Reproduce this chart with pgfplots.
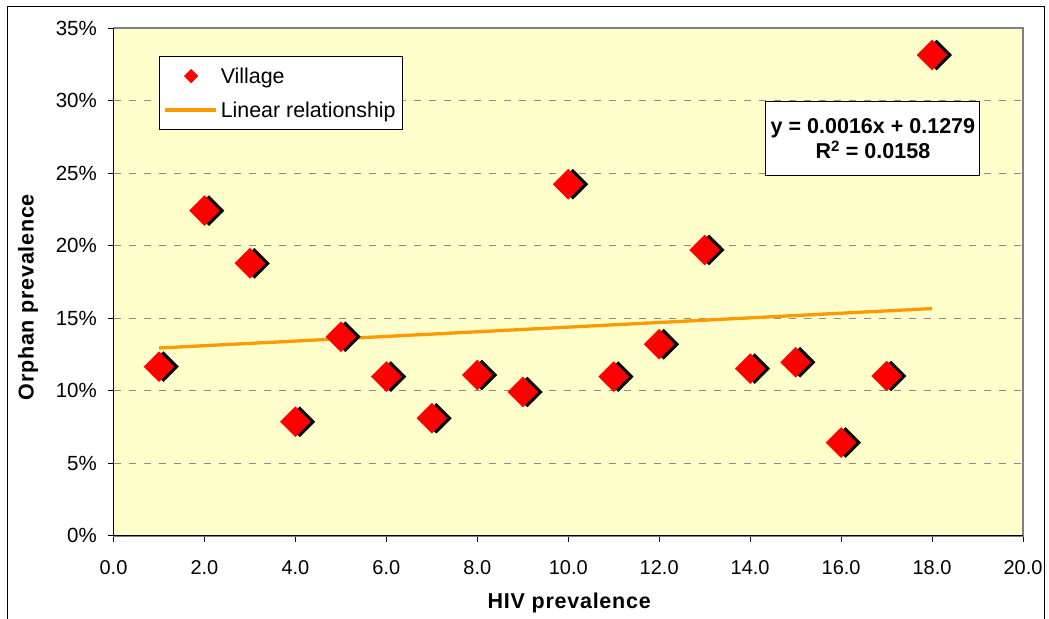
\documentclass[border=0pt]{standalone}
\usepackage{pgfplots}
\pgfplotsset{compat=1.18}
\usepackage{fontspec}
\setmainfont{Liberation Sans}
\newfontfamily\lblfont[LetterSpace=3.5]{Liberation Sans}
\definecolor{plotbg}{HTML}{FFFFCC}
\definecolor{trend}{HTML}{FF9900}
\definecolor{gridgray}{HTML}{8C8C8C}
\definecolor{framegray}{HTML}{808080}
\begin{document}
\begin{tikzpicture}
\begin{axis}[
  scale only axis,
  width=909.5pt, height=507.7pt,
  xmin=0, xmax=20, ymin=0, ymax=35,
  xtick={0,2,...,20}, ytick={0,5,...,35},
  xticklabels={}, yticklabels={},
  tick align=outside, major tick length=6pt,
  tick style={black, line width=0.9pt},
  xtick pos=bottom, ytick pos=left,
  axis line style={draw=framegray, line width=1.8pt},
  axis background/.style={fill=plotbg},
  ymajorgrids, grid style={gridgray, line width=1pt, dash pattern=on 7.5pt off 7.5pt},
  clip=false,
  legend style={at={(rel axis cs:0.050,0.945)}, anchor=north west, draw=black, line width=1pt, fill=white,
    font=\fontsize{21.4}{25}\selectfont, inner xsep=4pt, inner ysep=8pt,
    nodes={inner sep=3pt}, row sep=11pt},
  legend cell align=left,
]
% shadows
\addplot[only marks, mark=square*, mark size=10.6pt, mark options={rotate=45, fill=black, draw=black, xshift=3.2pt, yshift=-3.2pt}, forget plot] coordinates {
(1,11.67) (2,22.42) (3,18.79) (4,7.87) (5,13.73) (6,10.98) (7,8.11) (8,11.09) (9,9.92)
(10,24.24) (11,10.98) (12,13.21) (13,19.71) (14,11.53) (15,11.97) (16,6.43) (17,11.02) (18,33.15)
};
\addplot[trend, line width=3.3pt, forget plot] coordinates {(1,12.95) (18,15.67)};
% points
\addplot[only marks, mark=square*, mark size=10.6pt, mark options={rotate=45, fill=red, draw=red}, forget plot] coordinates {
(1,11.67) (2,22.42) (3,18.79) (4,7.87) (5,13.73) (6,10.98) (7,8.11) (8,11.09) (9,9.92)
(10,24.24) (11,10.98) (12,13.21) (13,19.71) (14,11.53) (15,11.97) (16,6.43) (17,11.02) (18,33.15)
};
\addlegendimage{legend image code/.code={\fill[red] (26pt,0) +(-6.5pt,0) -- +(0,6.5pt) -- +(6.5pt,0) -- +(0,-6.5pt) -- cycle;}}
\addlegendentry{Village}
\addlegendimage{legend image code/.code={\draw[trend, line width=3.3pt] (0pt,0) -- (51pt,0);}}
\addlegendentry{Linear relationship}
% tick labels
\pgfplotsinvokeforeach{0,2,4,6,8,10,12,14,16,18,20}{
  \node[font=\fontsize{20}{23}\selectfont, anchor=north, inner sep=0pt] at ([yshift=-24pt]axis cs:#1,0) {#1.0};
}
\pgfplotsinvokeforeach{0,5,10,15,20,25,30,35}{
  \node[font=\fontsize{20.5}{23}\selectfont, anchor=east, inner sep=0pt] at ([xshift=-16.5pt]axis cs:0,#1) {#1\%};
}
% black left and bottom axis lines
\draw[black, line width=1pt] (rel axis cs:0,1) -- (rel axis cs:0,0) -- (rel axis cs:1,0);
% equation box
\node[draw=black, line width=1pt, fill=white, font=\bfseries\fontsize{21.5}{25}\selectfont, align=center,
  minimum width=214pt, minimum height=74pt, inner sep=2pt] at (rel axis cs:0.835,0.782)
  {y = 0.0016x + 0.1279\\R\textsuperscript{2} = 0.0158};
% axis labels
\node[font=\lblfont\bfseries\fontsize{21.5}{25}\selectfont, rotate=90] at (rel axis cs:-0.094,0.47) {Orphan prevalence};
\node[font=\lblfont\bfseries\fontsize{21.5}{25}\selectfont] at (rel axis cs:0.501,-0.132) {HIV prevalence};
% frame & bbox coords
\coordinate (bbl) at (rel axis cs:-0.1248,-0.1637);
\coordinate (btr) at (rel axis cs:1.0286,1.0555);
\draw[black, line width=1pt] (rel axis cs:-0.1171,-0.1637) -- (rel axis cs:-0.1171,1.0418) -- (rel axis cs:1.0231,1.0418) -- (rel axis cs:1.0231,-0.1637);
\end{axis}
\pgfresetboundingbox
\path[use as bounding box] (bbl) rectangle (btr);
\end{tikzpicture}
\end{document}
